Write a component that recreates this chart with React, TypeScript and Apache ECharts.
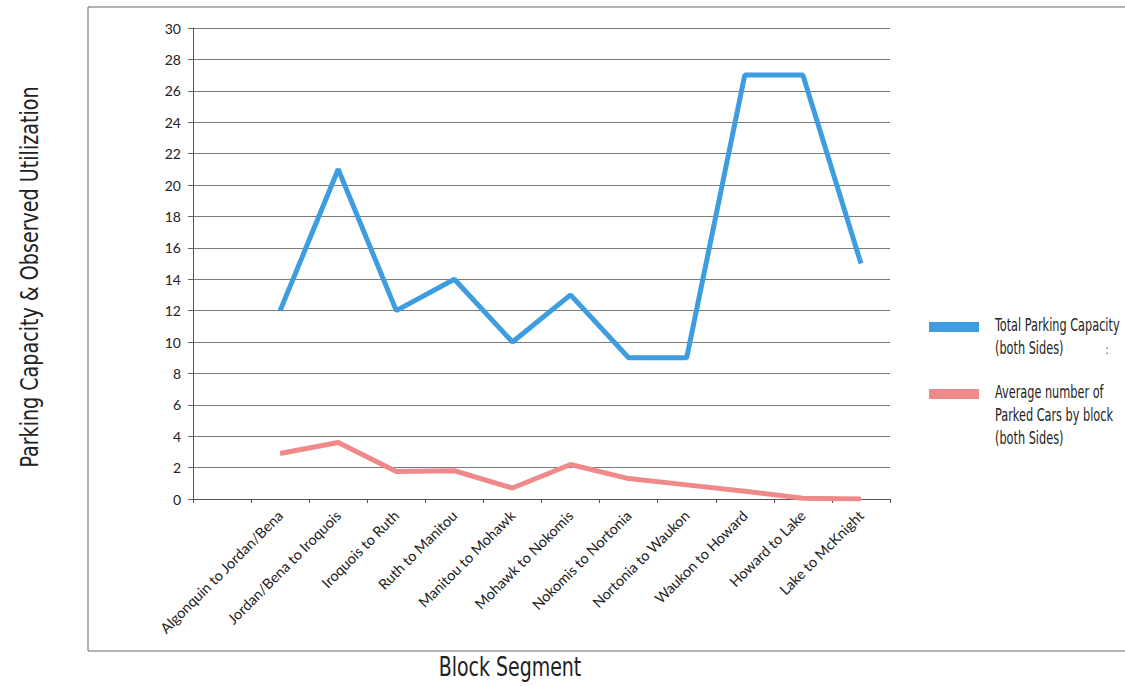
import React, { useEffect, useRef } from "react";
import * as echarts from "echarts";

const categories = [
  "",
  "Algonquin to Jordan/Bena",
  "Jordan/Bena to Iroquois",
  "Iroquois to Ruth",
  "Ruth to Manitou",
  "Manitou to Mohawk",
  "Mohawk to Nokomis",
  "Nokomis to Nortonia",
  "Nortonia to Waukon",
  "Waukon to Howard",
  "Howard to Lake",
  "Lake to McKnight",
];
const capacity = [null, 12, 21, 12, 14, 10, 13, 9, 9, 27, 27, 15];
const parked = [null, 2.9, 3.6, 1.75, 1.8, 0.7, 2.2, 1.3, 0.9, 0.5, 0.05, 0];
const seriesNames = ["Total Parking Capacity\n(both Sides)", "Average number of\nParked Cars by block\n(both Sides)"];
const yTitle = "Parking Capacity & Observed Utilization";
const xTitle = "Block Segment";

const BLUE = "#3d9de0";
const RED = "#f08a8a";
const TITLE_FONT = "'DejaVu Sans Condensed', 'DejaVu Sans', sans-serif";
const LABEL_FONT = "Lato, 'Open Sans', sans-serif";

export default function App() {
  const ref = useRef<HTMLDivElement>(null);
  useEffect(() => {
    if (!ref.current) return;
    const chart = echarts.init(ref.current, undefined, { renderer: "svg" });
    const legendItems: any[] = [];
    [BLUE, RED].forEach((c, i) => {
      const top = i === 0 ? 322 : 389;
      legendItems.push({
        type: "rect",
        shape: { x: 929, y: top, width: 50, height: 10 },
        style: { fill: c },
      });
      legendItems.push({
        type: "text",
        x: 995,
        y: top - 8,
        scaleX: 0.74,
        style: {
          text: seriesNames[i],
          font: `17px ${TITLE_FONT}`,
          fill: "#222",
          lineHeight: 23,
        },
      });
    });
    chart.setOption({
      animation: false,
      backgroundColor: "#fff",
      grid: { left: 193, right: 235, top: 28, bottom: 187, containLabel: false, outerBoundsMode: "none" },
      xAxis: {
        type: "category",
        data: categories,
        boundaryGap: true,
        axisLine: { lineStyle: { color: "#555", width: 1 } },
        axisTick: { show: true, length: 4, lineStyle: { color: "#555" } },
        axisLabel: { rotate: 45, interval: 0, fontSize: 14.5, margin: 14, color: "#222", fontFamily: LABEL_FONT },
        splitLine: { show: false },
      },
      yAxis: {
        type: "value",
        min: 0,
        max: 30,
        interval: 2,
        axisLine: { show: true, lineStyle: { color: "#555", width: 1 } },
        axisTick: { show: true, length: 5, lineStyle: { color: "#666" } },
        axisLabel: { fontSize: 14, margin: 12, color: "#222", fontFamily: LABEL_FONT },
        splitLine: { show: true, lineStyle: { color: "#7a7a7a", width: 1 } },
      },
      series: [
        {
          name: "Total Parking Capacity (both Sides)",
          type: "line",
          data: capacity,
          symbol: "none",
          lineStyle: { color: BLUE, width: 5 },
          itemStyle: { color: BLUE },
          z: 3,
        },
        {
          name: "Average number of Parked Cars by block (both Sides)",
          type: "line",
          data: parked,
          symbol: "none",
          lineStyle: { color: RED, width: 5 },
          itemStyle: { color: RED },
          z: 2,
        },
      ],
      graphic: [
        { type: "line", shape: { x1: 88, y1: 7, x2: 1125, y2: 7 }, style: { stroke: "#666", lineWidth: 1 } },
        { type: "line", shape: { x1: 88, y1: 7, x2: 88, y2: 651 }, style: { stroke: "#666", lineWidth: 1 } },
        { type: "line", shape: { x1: 88, y1: 651, x2: 1125, y2: 651 }, style: { stroke: "#666", lineWidth: 1 } },
        {
          type: "text",
          x: 29,
          y: 277,
          rotation: Math.PI / 2,
          scaleX: 0.85,
          style: {
            text: yTitle,
            font: `25px ${TITLE_FONT}`,
            fill: "#222",
            align: "center",
            verticalAlign: "middle",
          },
        },
        {
          type: "text",
          x: 510,
          y: 667,
          scaleX: 0.78,
          style: {
            text: xTitle,
            font: `27px ${TITLE_FONT}`,
            fill: "#222",
            align: "center",
            verticalAlign: "middle",
          },
        },
        {
          type: "text",
          x: 1107,
          y: 350,
          style: { text: ":", font: `12px ${TITLE_FONT}`, fill: "#555", align: "center", verticalAlign: "middle" },
        },
        ...legendItems,
      ],
    });
    return () => chart.dispose();
  }, []);
  return <div ref={ref} style={{ position: "fixed", left: 0, top: 0, width: 1125, height: 686 }} />;
}
